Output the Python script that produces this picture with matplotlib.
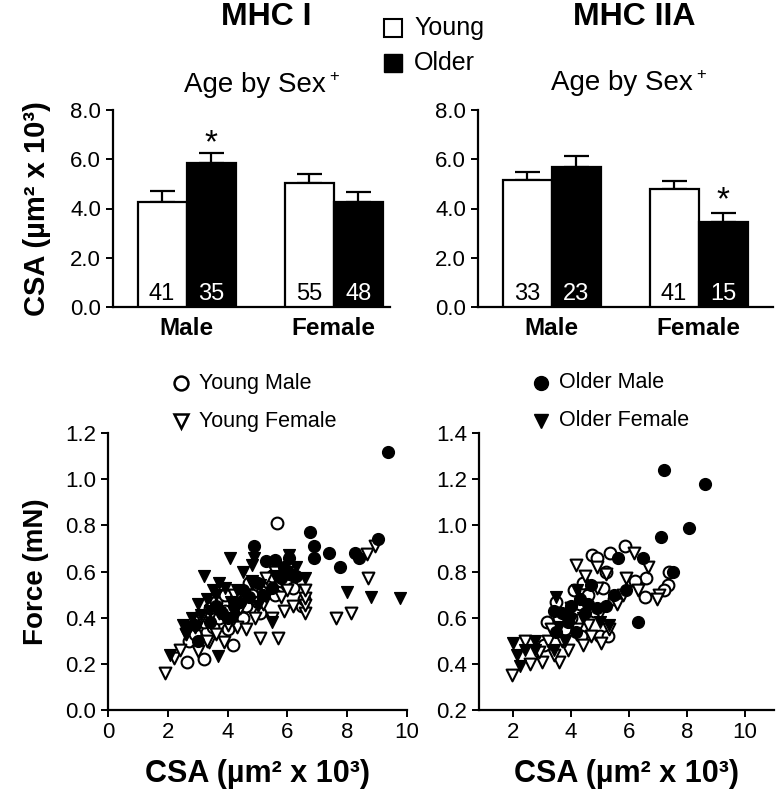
import numpy as np
import matplotlib
matplotlib.use('Agg')
from matplotlib import pyplot as plt

plt.rcParams['font.family'] = ['Liberation Sans', 'DejaVu Sans']

# bar data: young male, older male, young female, older female
groups = ['Male', 'Female']
csa_mhc1 = [4.25, 5.85, 5.05, 4.25]
sem_mhc1 = [0.45, 0.40, 0.35, 0.40]
n_mhc1 = ['41', '35', '55', '48']
csa_mhc2a = [5.15, 5.70, 4.80, 3.45]
sem_mhc2a = [0.35, 0.45, 0.30, 0.37]
n_mhc2a = ['33', '23', '41', '15']

# scatter data MHC I (CSA, force)
ym1_x = [2.65, 3.2, 2.72, 4.19, 3.0, 3.3, 3.5, 3.7, 3.9, 4.1, 4.3, 3.4, 3.6, 3.9, 4.4, 4.6, 4.8, 5.0,
         5.2, 5.4, 5.5, 5.6, 5.8, 6.0, 6.2, 6.5, 6.55, 5.64, 4.7, 5.1, 3.2, 4.0, 5.9, 2.9, 4.5]
ym1_y = [0.21, 0.22, 0.30, 0.28, 0.31, 0.34, 0.36, 0.40, 0.43, 0.39, 0.42, 0.44, 0.47, 0.50, 0.48, 0.45, 0.50, 0.47,
         0.52, 0.55, 0.58, 0.50, 0.56, 0.54, 0.53, 0.45, 0.48, 0.81, 0.55, 0.42, 0.38, 0.35, 0.60, 0.33, 0.40]
yf1_x = [1.91, 2.21, 3.02, 3.39, 3.89, 2.6, 2.9, 3.3, 3.6, 4.0, 4.3, 4.6, 4.9, 5.07, 5.67, 5.5, 5.9, 6.2, 6.6,
         6.6, 6.6, 6.6, 7.62, 8.12, 8.69, 8.66, 8.93, 5.2, 4.4, 3.7, 4.8, 5.8, 6.0, 5.6, 3.1, 4.2, 5.3, 2.4]
yf1_y = [0.16, 0.225, 0.255, 0.295, 0.295, 0.33, 0.36, 0.30, 0.33, 0.37, 0.36, 0.35, 0.40, 0.31, 0.31, 0.40, 0.43, 0.45, 0.42,
         0.455, 0.485, 0.52, 0.40, 0.42, 0.57, 0.675, 0.71, 0.46, 0.44, 0.42, 0.55, 0.49, 0.52, 0.60, 0.40, 0.50, 0.57, 0.26]
om1_x = [9.36, 6.74, 6.88, 6.88, 7.38, 7.75, 8.25, 8.39, 9.03, 4.87, 5.27, 5.57, 6.04, 3.0, 3.4, 3.8, 4.2, 4.5,
         4.7, 5.0, 5.2, 5.5, 5.8, 6.1, 6.3, 4.0, 3.6, 2.9, 4.4, 5.9]
om1_y = [1.117, 0.77, 0.71, 0.66, 0.68, 0.62, 0.68, 0.66, 0.74, 0.71, 0.645, 0.65, 0.66, 0.30, 0.38, 0.42, 0.45, 0.52,
         0.49, 0.55, 0.50, 0.53, 0.57, 0.59, 0.58, 0.40, 0.45, 0.37, 0.47, 0.62]
of1_x = [2.08, 3.69, 4.09, 4.87, 4.8, 6.04, 7.99, 8.79, 9.77, 2.5, 2.7, 2.8, 3.1, 3.3, 3.5, 3.7, 3.6, 3.9,
         4.1, 4.3, 4.5, 4.8, 5.1, 5.3, 5.6, 6.0, 6.3, 3.2, 3.0, 4.2, 5.5, 6.6, 3.4, 2.6, 5.0]
of1_y = [0.24, 0.235, 0.66, 0.66, 0.63, 0.67, 0.51, 0.49, 0.485, 0.37, 0.36, 0.40, 0.41, 0.48, 0.52, 0.55, 0.50, 0.53,
         0.47, 0.52, 0.60, 0.56, 0.54, 0.49, 0.58, 0.60, 0.62, 0.58, 0.46, 0.40, 0.38, 0.57, 0.43, 0.33, 0.45]

# scatter data MHC IIA
ym2_x = [5.86, 5.34, 4.73, 4.9, 6.6, 7.39, 7.36, 6.54, 3.47, 3.06, 3.16, 4.35, 5.0, 5.28, 4.0, 4.3, 4.6, 4.4,
         4.8, 5.1, 5.5, 3.8, 4.1, 5.2, 6.2, 7.2, 3.6]
ym2_y = [0.91, 0.88, 0.87, 0.86, 0.77, 0.80, 0.74, 0.69, 0.67, 0.48, 0.58, 0.52, 0.52, 0.52, 0.60, 0.66, 0.70, 0.75,
         0.63, 0.73, 0.68, 0.55, 0.72, 0.80, 0.76, 0.72, 0.60]
yf2_x = [6.16, 6.64, 4.18, 4.9, 5.21, 5.89, 7.05, 6.95, 1.97, 2.99, 3.6, 2.6, 2.9, 3.2, 3.4, 3.7, 3.9, 4.2,
         4.4, 4.6, 4.7, 5.04, 5.3, 4.0, 4.5, 5.6, 5.0, 3.3, 4.9, 5.8, 2.4, 6.3]
yf2_y = [0.88, 0.82, 0.83, 0.82, 0.79, 0.77, 0.70, 0.68, 0.35, 0.41, 0.41, 0.40, 0.45, 0.50, 0.44, 0.50, 0.46, 0.55,
         0.48, 0.57, 0.52, 0.49, 0.55, 0.64, 0.78, 0.66, 0.62, 0.55, 0.73, 0.70, 0.50, 0.72]
om2_x = [7.22, 8.62, 8.07, 7.09, 7.53, 5.62, 6.5, 6.3, 3.4, 3.47, 4.18, 3.7, 4.0, 4.3, 4.6, 4.9, 5.2, 5.5,
         4.5, 3.9, 4.7, 5.9]
om2_y = [1.24, 1.18, 0.99, 0.95, 0.80, 0.86, 0.86, 0.58, 0.63, 0.54, 0.54, 0.62, 0.65, 0.68, 0.66, 0.64, 0.65, 0.70,
         0.62, 0.58, 0.74, 0.72]
of2_x = [2.0, 2.14, 2.24, 2.41, 2.75, 2.75, 3.43, 3.47, 3.6, 4.0, 4.4, 4.2, 5.3, 5.0, 3.8]
of2_y = [0.49, 0.44, 0.39, 0.46, 0.46, 0.50, 0.46, 0.69, 0.56, 0.59, 0.60, 0.72, 0.57, 0.58, 0.50]

W, H = 777, 795
fig = plt.figure(figsize=(W / 100, H / 100), dpi=100)


def box(l, t, r, b):
    return [l / W, 1 - b / H, (r - l) / W, (b - t) / H]


def style(ax):
    for s in ['top', 'right']:
        ax.spines[s].set_visible(False)
    for s in ['left', 'bottom']:
        ax.spines[s].set_linewidth(1.6)
    ax.tick_params(width=1.4, length=5, labelsize=16, direction='out')


def bars(ax, vals, errs, ns, xmax):
    xs = [1, 2, 4, 5]
    colors = ['white', 'black', 'white', 'black']
    ax.bar(xs, vals, width=1.0, color=colors, edgecolor='black', linewidth=1.6, zorder=3)
    ax.errorbar(xs, vals, yerr=[[0] * 4, errs], fmt='none', ecolor='black',
                elinewidth=1.6, capsize=9, capthick=1.6, zorder=2)
    for x, n, c in zip(xs, ns, colors):
        ax.text(x, 0.1, n, ha='center', va='bottom', fontsize=17,
                color='black' if c == 'white' else 'white', zorder=4)
    ax.set_xlim(0, xmax)
    ax.set_ylim(0, 8)
    ax.set_yticks([0, 2, 4, 6, 8])
    ax.set_yticklabels(['0.0', '2.0', '4.0', '6.0', '8.0'])
    ax.set_xticks([1.5, 4.5])
    style(ax)
    ax.set_xticklabels(groups, fontweight='bold', fontsize=17.5)
    ax.tick_params(axis='x', length=0, pad=7)


ax1 = fig.add_axes(box(113, 110, 390, 307))
bars(ax1, csa_mhc1, sem_mhc1, n_mhc1, 5.65)
ax1.text(2, 6.3, '*', ha='center', va='baseline', fontsize=24)
ax1.set_ylabel('CSA (µm² x 10³)', fontweight='bold', fontsize=21, labelpad=14)

ax2 = fig.add_axes(box(478, 110, 773, 307))
bars(ax2, csa_mhc2a, sem_mhc2a, n_mhc2a, 6.02)
ax2.text(5, 3.95, '*', ha='center', va='baseline', fontsize=24)

# overlay in pixel coordinates for titles and legends
ov = fig.add_axes([0, 0, 1, 1], zorder=-1)
ov.set_xlim(0, W)
ov.set_ylim(H, 0)
ov.axis('off')

ov.text(266, 17, 'MHC I', ha='center', va='center', fontsize=23, fontweight='bold')
ov.text(634, 17, 'MHC IIA', ha='center', va='center', fontsize=23, fontweight='bold')
ov.text(255, 85, 'Age by Sex', ha='center', va='center', fontsize=20)
ov.text(334, 77, '+', ha='center', va='center', fontsize=12)
ov.text(622, 83, 'Age by Sex', ha='center', va='center', fontsize=20)
ov.text(701, 75, '+', ha='center', va='center', fontsize=12)

ov.plot([393], [28], marker='s', ms=13, mfc='white', mec='black', mew=1.5, ls='none')
ov.plot([393], [63], marker='s', ms=13, mfc='black', mec='black', ls='none')
ov.text(414, 28, 'Young', ha='left', va='center', fontsize=18)
ov.text(414, 63, 'Older', ha='left', va='center', fontsize=18)

ov.plot([181], [383], marker='o', ms=10, mfc='white', mec='black', mew=1.8, ls='none')
ov.plot([181], [421], marker='v', ms=10, mfc='white', mec='black', mew=1.8, ls='none')
ov.text(199, 383, 'Young Male', ha='left', va='center', fontsize=15.5)
ov.text(199, 421, 'Young Female', ha='left', va='center', fontsize=15.5)
ov.plot([541], [383], marker='o', ms=10, mfc='black', mec='black', ls='none')
ov.plot([541], [421], marker='v', ms=10, mfc='black', mec='black', ls='none')
ov.text(559, 383, 'Older Male', ha='left', va='center', fontsize=15.5)
ov.text(559, 421, 'Older Female', ha='left', va='center', fontsize=15.5)


def scatter_panel(ax, ym, yf, om, of):
    ax.scatter(ym[0], ym[1], s=72, marker='o', facecolors='white', edgecolors='black', linewidths=1.5, zorder=3)
    ax.scatter(yf[0], yf[1], s=72, marker='v', facecolors='white', edgecolors='black', linewidths=1.5, zorder=3)
    ax.scatter(om[0], om[1], s=72, marker='o', color='black', zorder=3)
    ax.scatter(of[0], of[1], s=72, marker='v', color='black', zorder=3)


ax3 = fig.add_axes(box(108, 433, 407, 710))
scatter_panel(ax3, (ym1_x, ym1_y), (yf1_x, yf1_y), (om1_x, om1_y), (of1_x, of1_y))
ax3.set_xlim(0, 10)
ax3.set_ylim(0, 1.2)
ax3.set_xticks([0, 2, 4, 6, 8, 10])
ax3.set_yticks(np.arange(0, 1.21, 0.2))
ax3.set_yticklabels(['0.0', '0.2', '0.4', '0.6', '0.8', '1.0', '1.2'])
style(ax3)
ax3.set_ylabel('Force (mN)', fontweight='bold', fontsize=20, labelpad=12)
ax3.set_xlabel('CSA (µm² x 10³)', fontweight='bold', fontsize=22, labelpad=12)

ax4 = fig.add_axes(box(479, 433, 774, 710))
scatter_panel(ax4, (ym2_x, ym2_y), (yf2_x, yf2_y), (om2_x, om2_y), (of2_x, of2_y))
ax4.set_xlim(0.83, 11)
ax4.set_ylim(0.2, 1.4)
ax4.set_xticks([2, 4, 6, 8, 10])
ax4.set_yticks(np.arange(0.2, 1.41, 0.2))
ax4.set_yticklabels(['0.2', '0.4', '0.6', '0.8', '1.0', '1.2', '1.4'])
style(ax4)
ax4.set_xlabel('CSA (µm² x 10³)', fontweight='bold', fontsize=22, labelpad=12)

fig.savefig('out.png', dpi=100)
